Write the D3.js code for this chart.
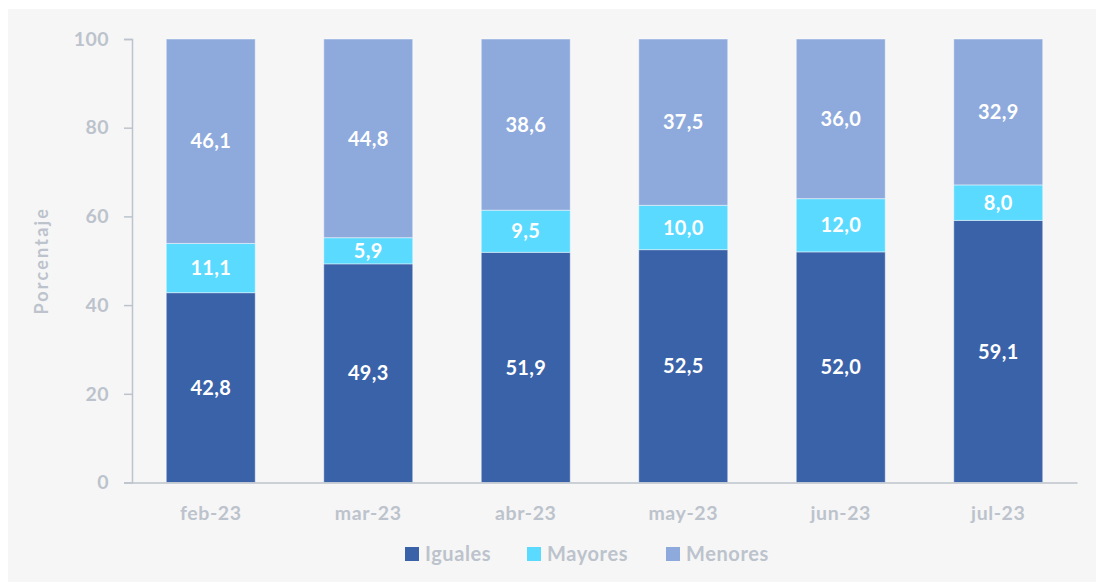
<!DOCTYPE html>
<html>
<head>
<meta charset="utf-8">
<script src="https://cdn.jsdelivr.net/npm/d3@7"></script>
<style>
  html, body { margin: 0; padding: 0; background: #ffffff; }
  svg { display: block; }
  text { font-family: Lato, "Open Sans", sans-serif; }
</style>
</head>
<body>
<svg id="chart" width="1096" height="582"></svg>
<script>
const categories = ["feb-23", "mar-23", "abr-23", "may-23", "jun-23", "jul-23"];
const seriesNames = ["Iguales", "Mayores", "Menores"];
const iguales = [42.8, 49.3, 51.9, 52.5, 52.0, 59.1];
const mayores = [11.1, 5.9, 9.5, 10.0, 12.0, 8.0];
const menores = [46.1, 44.8, 38.6, 37.5, 36.0, 32.9];
const yTicks = [0, 20, 40, 60, 80, 100];
const colors = ["#3a62a8", "#5bdaff", "#8eaadc"];

const svg = d3.select("#chart");
const W = 1096, H = 582;
const margin = { left: 132, right: 19, top: 39, bottom: 99.5 };

svg.append("rect").attr("x", 8).attr("y", 9).attr("width", W - 8).attr("height", H - 9).attr("fill", "#f6f6f6");

const rows = categories.map((c, i) => ({ cat: c, Iguales: iguales[i], Mayores: mayores[i], Menores: menores[i] }));
const stack = d3.stack().keys(seriesNames)(rows);

const x = d3.scaleBand().domain(categories).range([margin.left, W - margin.right]).paddingInner(0.435).paddingOuter(0.2175);
const y = d3.scaleLinear().domain([0, 100]).range([H - margin.bottom, margin.top]);
const color = d3.scaleOrdinal().domain(seriesNames).range(colors);

const axisColor = "#bcc3cd";
const textColor = "#bcc3cc";

// Y axis
const yAxis = svg.append("g").attr("transform", `translate(${margin.left},0)`)
  .call(d3.axisLeft(y).tickValues(yTicks).tickSize(8).tickPadding(15));
yAxis.select(".domain").attr("stroke", axisColor).attr("stroke-width", 1.5);
yAxis.selectAll(".tick line").attr("stroke", axisColor).attr("stroke-width", 1.5);
yAxis.selectAll(".tick text").attr("fill", textColor).attr("font-size", 19.5).attr("font-weight", 700)
  .attr("letter-spacing", 0.4).attr("font-family", "Lato, sans-serif");

// Bars
const layers = svg.append("g").selectAll("g").data(stack).join("g").attr("fill", d => color(d.key));
layers.selectAll("rect").data(d => d).join("rect")
  .attr("x", d => x(d.data.cat))
  .attr("width", x.bandwidth())
  .attr("y", d => y(d[1]))
  .attr("height", d => y(d[0]) - y(d[1]))
  .attr("stroke", "rgba(255,255,255,0.45)")
  .attr("stroke-width", 1);

// Value labels
const fmt = v => d3.format(".1f")(v).replace(".", ",");
layers.selectAll("text").data(d => d.map(p => Object.assign({ key: d.key }, p))).join("text")
  .attr("x", d => x(d.data.cat) + x.bandwidth() / 2)
  .attr("y", d => (y(d[0]) + y(d[1])) / 2)
  .attr("dy", "0.36em")
  .attr("text-anchor", "middle")
  .attr("fill", "#ffffff")
  .attr("font-size", 20)
  .attr("font-weight", 700)
  .attr("letter-spacing", 0.3)
  .text(d => fmt(d.data[d.key]));

// X axis
const xAxis = svg.append("g").attr("transform", `translate(0,${y(0)})`)
  .call(d3.axisBottom(x).tickSize(0).tickPadding(24));
xAxis.select(".domain").attr("stroke", axisColor).attr("stroke-width", 1.5);
xAxis.selectAll(".tick text").attr("fill", textColor).attr("font-size", 19.5).attr("font-weight", 700)
  .attr("letter-spacing", 0.6).attr("font-family", "Lato, sans-serif");

// Y label
svg.append("text")
  .attr("transform", `translate(48,${(y(0) + y(100)) / 2}) rotate(-90)`)
  .attr("text-anchor", "middle")
  .attr("fill", textColor)
  .attr("font-size", 18)
  .attr("font-weight", 700)
  .attr("letter-spacing", 2.2)
  .text("Porcentaje");

// Legend
const legendX = [405, 527, 666];
const legend = svg.append("g");
seriesNames.forEach((s, i) => {
  const g = legend.append("g").attr("transform", `translate(${legendX[i]},547)`);
  g.append("rect").attr("width", 14).attr("height", 14).attr("fill", color(s));
  g.append("text").attr("x", 20).attr("y", 7).attr("dy", "0.36em")
    .attr("fill", textColor).attr("font-size", 20).attr("font-weight", 700)
    .attr("letter-spacing", 0.6).text(s);
});
</script>
</body>
</html>
